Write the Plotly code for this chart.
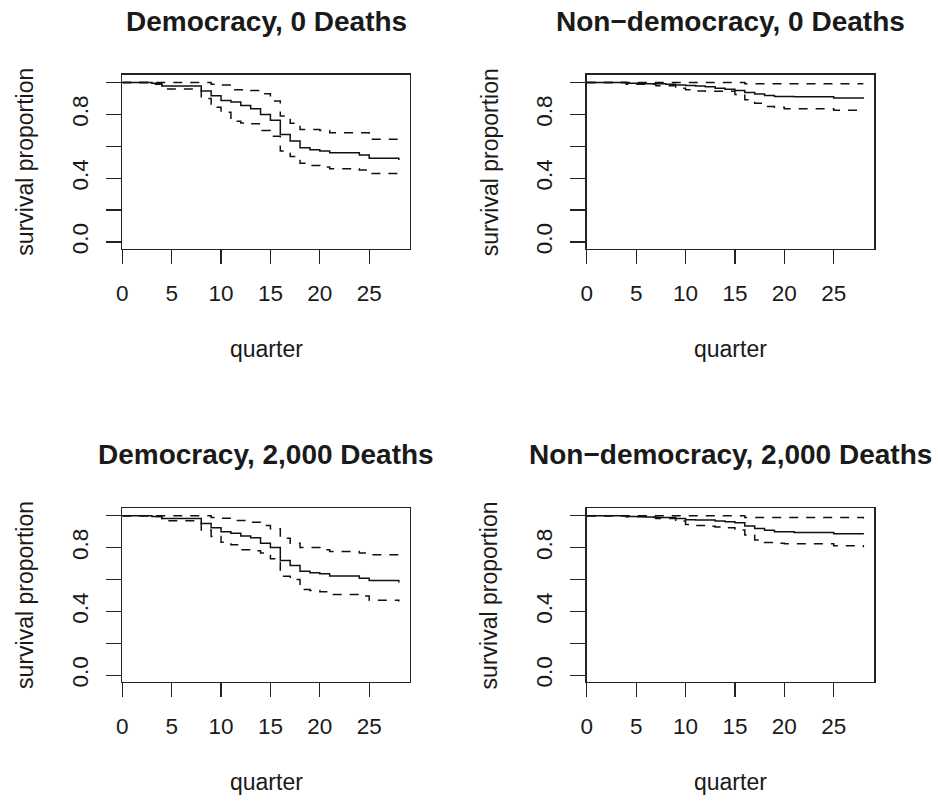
import plotly.graph_objects as go

# ---------------- data ----------------
quarters = list(range(0, 29))

titles = ["Democracy, 0 Deaths", "Non\u2212democracy, 0 Deaths",
          "Democracy, 2,000 Deaths", "Non\u2212democracy, 2,000 Deaths"]

# Democracy, 0 deaths
dem0_est = [1.0, 1.0, 1.0, 0.996, 0.978, 0.978, 0.978, 0.978, 0.948, 0.917, 0.888, 0.878, 0.857, 0.836, 0.799,
            0.764, 0.675, 0.633, 0.591, 0.579, 0.571, 0.560, 0.560, 0.560, 0.546, 0.525, 0.525, 0.525, 0.514]
dem0_hi = [1.0, 1.0, 1.0, 1.0, 1.0, 1.0, 1.0, 1.0, 1.0, 0.99, 0.985, 0.955, 0.955, 0.95, 0.93,
           0.885, 0.79, 0.745, 0.705, 0.705, 0.70, 0.685, 0.685, 0.685, 0.685, 0.645, 0.645, 0.645, 0.64]
dem0_lo = [1.0, 1.0, 1.0, 0.99, 0.96, 0.96, 0.96, 0.96, 0.90, 0.845, 0.814, 0.757, 0.747, 0.742, 0.70,
           0.664, 0.57, 0.536, 0.494, 0.48, 0.47, 0.46, 0.46, 0.46, 0.452, 0.43, 0.43, 0.43, 0.41]

# Non-democracy, 0 deaths
non0_est = [1.0, 1.0, 1.0, 1.0, 0.996, 0.996, 0.993, 0.993, 0.99, 0.985, 0.981, 0.978, 0.974, 0.965, 0.958,
            0.95, 0.938, 0.928, 0.919, 0.913, 0.913, 0.911, 0.911, 0.911, 0.911, 0.903, 0.903, 0.903, 0.898]
non0_hi = [1.0, 1.0, 1.0, 1.0, 1.0, 1.0, 1.0, 1.0, 1.0, 1.0, 1.0, 1.0, 1.0, 1.0, 1.0,
           1.0, 0.992, 0.992, 0.992, 0.992, 0.992, 0.992, 0.992, 0.992, 0.992, 0.992, 0.992, 0.992, 0.992]
non0_lo = [1.0, 1.0, 1.0, 1.0, 0.99, 0.99, 0.99, 0.98, 0.98, 0.965, 0.955, 0.947, 0.945, 0.945, 0.945,
           0.925, 0.892, 0.87, 0.85, 0.845, 0.836, 0.836, 0.836, 0.836, 0.836, 0.826, 0.826, 0.826, 0.82]

# Democracy, 2,000 deaths
dem2_est = [1.0, 1.0, 1.0, 0.996, 0.983, 0.983, 0.983, 0.983, 0.952, 0.925, 0.90, 0.89, 0.874, 0.863, 0.828,
            0.801, 0.72, 0.689, 0.652, 0.642, 0.636, 0.623, 0.623, 0.623, 0.609, 0.594, 0.594, 0.594, 0.582]
dem2_hi = [1.0, 1.0, 1.0, 1.0, 1.0, 1.0, 1.0, 1.0, 1.0, 0.99, 0.985, 0.971, 0.971, 0.96, 0.94,
           0.919, 0.859, 0.828, 0.801, 0.801, 0.787, 0.776, 0.776, 0.776, 0.766, 0.756, 0.756, 0.756, 0.745]
dem2_lo = [1.0, 1.0, 1.0, 0.996, 0.969, 0.969, 0.969, 0.969, 0.911, 0.87, 0.834, 0.818, 0.787, 0.781, 0.766,
           0.731, 0.621, 0.60, 0.538, 0.532, 0.524, 0.507, 0.507, 0.507, 0.497, 0.47, 0.47, 0.47, 0.462]

# Non-democracy, 2,000 deaths
non2_est = [1.0, 1.0, 1.0, 1.0, 0.996, 0.996, 0.993, 0.99, 0.99, 0.983, 0.975, 0.973, 0.973, 0.967, 0.962,
            0.957, 0.936, 0.921, 0.909, 0.90, 0.90, 0.896, 0.896, 0.896, 0.896, 0.888, 0.888, 0.888, 0.884]
non2_hi = [1.0, 1.0, 1.0, 1.0, 1.0, 1.0, 1.0, 1.0, 1.0, 1.0, 1.0, 1.0, 1.0, 1.0, 1.0,
           1.0, 0.99, 0.99, 0.99, 0.99, 0.99, 0.99, 0.99, 0.99, 0.99, 0.99, 0.99, 0.99, 0.983]
non2_lo = [1.0, 1.0, 1.0, 1.0, 0.994, 0.994, 0.99, 0.983, 0.983, 0.967, 0.945, 0.94, 0.935, 0.93, 0.925,
           0.911, 0.88, 0.849, 0.832, 0.828, 0.825, 0.825, 0.825, 0.825, 0.825, 0.812, 0.812, 0.812, 0.803]

x_tickvals = [0, 5, 10, 15, 20, 25]
y_tickvals = [0.0, 0.2, 0.4, 0.6, 0.8, 1.0]
y_ticktext = ["0.0", "", "0.4", "", "0.8", ""]

panels = [
    (dem0_est, dem0_hi, dem0_lo),
    (non0_est, non0_hi, non0_lo),
    (dem2_est, dem2_hi, dem2_lo),
    (non2_est, non2_hi, non2_lo),
]

# ---------------- layout geometry (page pixels) ----------------
W, H = 938, 803
FONT = "Liberation Sans, Arial, Helvetica, sans-serif"
TXT = "#1a1a1a"
boxes = [  # left, right, top, bottom in page pixels
    (117.0, 406.5, 75.5, 250.5),
    (584.5, 874.0, 75.5, 250.5),
    (117.0, 406.5, 512.0, 687.0),
    (584.5, 874.0, 512.0, 687.0),
]


def px(v):
    return v / W


def py(v):
    return 1 - v / H


fig = go.Figure()
layout = dict(
    width=W, height=H, margin=dict(l=0, r=0, t=0, b=0),
    paper_bgcolor="white", plot_bgcolor="white", showlegend=False,
    font=dict(family=FONT, color=TXT, size=22),
)
annotations = []

for i, ((est, hi, lo), (l, r, t, b)) in enumerate(zip(panels, boxes)):
    k = "" if i == 0 else str(i + 1)
    xa, ya = "x" + k, "y" + k
    for series, dash in ((est, "solid"), (hi, "9px,8px"), (lo, "9px,8px")):
        fig.add_trace(go.Scatter(
            x=quarters, y=series, xaxis=xa, yaxis=ya, mode="lines",
            line=dict(shape="hv", color="#111111", width=1.5, dash=dash),
            hoverinfo="skip"))
    layout["xaxis" + k] = dict(
        domain=[px(l), px(r)], anchor=ya, range=[0, 29.12],
        tickvals=x_tickvals, ticks="outside", ticklen=14, tickwidth=1.3, tickcolor="#222",
        showline=True, mirror=True, linecolor="#222", linewidth=1.5,
        showgrid=False, zeroline=False, tickfont=dict(size=22.5, color=TXT),
        ticklabelstandoff=10)
    layout["yaxis" + k] = dict(
        domain=[py(b), py(t)], anchor=xa, range=[-0.042, 1.048],
        tickvals=y_tickvals, ticktext=y_ticktext, ticks="outside", ticklen=15,
        tickwidth=1.3, tickcolor="#222", tickangle=-90,
        showline=True, mirror=True, linecolor="#222", linewidth=1.5,
        showgrid=False, zeroline=False, tickfont=dict(size=22.5, color=TXT),
        ticklabelstandoff=9)
    cx = (l + r) / 2
    cy = (t + b) / 2
    annotations.append(dict(text="<b>" + titles[i] + "</b>", x=px(cx), y=py(t - 54),
                            xref="paper", yref="paper", showarrow=False,
                            xanchor="center", yanchor="middle", font=dict(size=28, color=TXT)))
    annotations.append(dict(text="quarter", x=px(cx), y=py(b + 101),
                            xref="paper", yref="paper", showarrow=False,
                            xanchor="center", yanchor="middle", font=dict(size=23, color=TXT)))
    annotations.append(dict(text="survival proportion", x=px(l - 98), y=py(cy),
                            xref="paper", yref="paper", showarrow=False, textangle=-90,
                            xanchor="center", yanchor="middle", font=dict(size=23, color=TXT)))

layout["annotations"] = annotations
fig.update_layout(**layout)
fig.write_html(
    "out.html",
    config={"displayModeBar": False, "staticPlot": True},
    post_script="document.body.style.margin='0';document.body.style.overflow='hidden';",
)
